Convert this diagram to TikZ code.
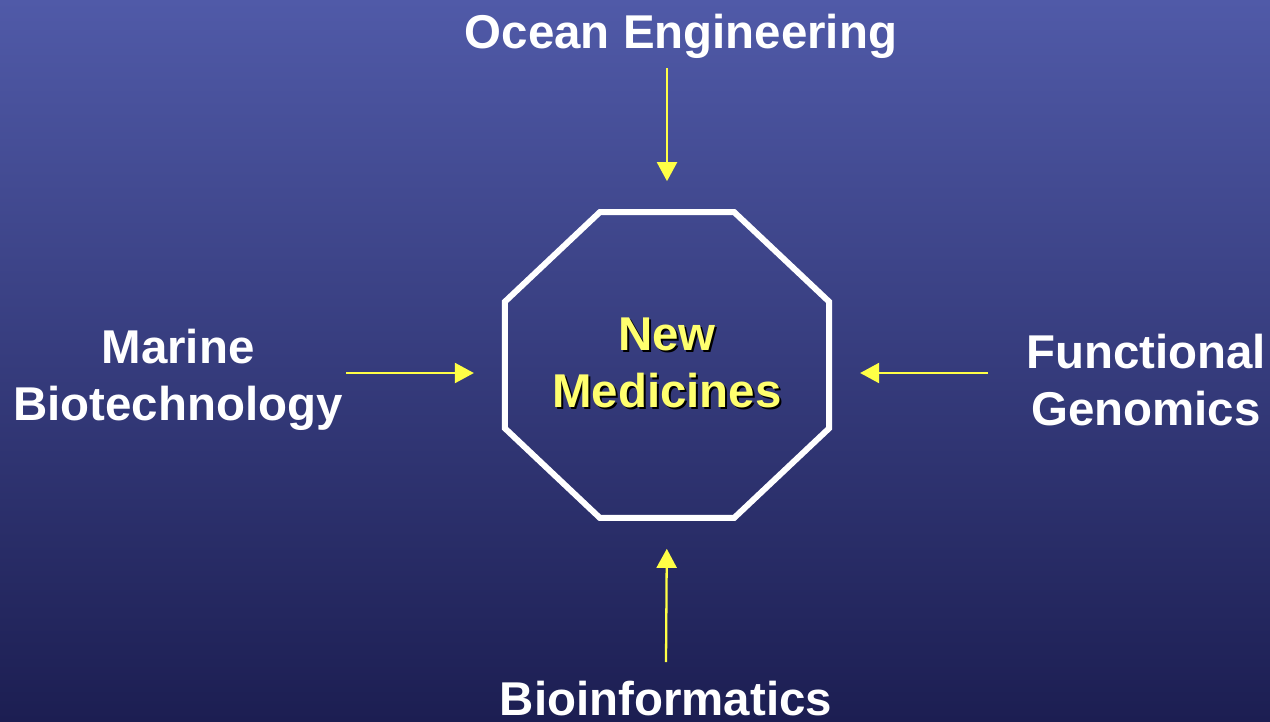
\documentclass[tikz,border=0pt]{standalone}
\usepackage{fontspec}
\setmainfont{Liberation Sans}
\usetikzlibrary{arrows.meta,shapes.geometric,positioning}

\definecolor{seatop}{RGB}{80,90,168}
\definecolor{seamid}{RGB}{44,54,138}
\definecolor{seabot}{RGB}{28,30,82}
\definecolor{arrowyellow}{RGB}{255,255,70}
\definecolor{textyellow}{RGB}{255,255,110}

\tikzset{
	field/.style={text=white,font=\fontsize{27}{32.5}\selectfont\bfseries,align=center,inner sep=0pt},
	medtext/.style={text=textyellow,font=\fontsize{27}{32.5}\selectfont\bfseries,align=center,inner sep=0pt},
	octagon/.style={regular polygon,regular polygon sides=8,minimum size=6.82cm,draw=white,line width=3.4pt,inner sep=0pt},
	feed/.style={draw=arrowyellow,line width=1.3pt,-{Triangle[width=0.4cm,length=0.38cm]},shorten >=0.56cm}
}

\begin{document}
\begin{tikzpicture}[x=0.02cm,y=-0.02cm]
	\shade[top color=seatop,middle color=seamid,bottom color=seabot] (0,0) rectangle (1270,721);
	\useasboundingbox (0,0) rectangle (1270,721);

	\node[octagon,transform shape,xscale=1.029,yscale=0.971] (octa) at (667,365) {};
	\node[medtext,text=black] at (669,365) {New\\Medicines};
	\node[medtext] (med) at (667,363) {New\\Medicines};

	\node[field,anchor=base] (ocean) at (681,48) {Ocean Engineering};
	\node[field] (marine) at (178,380) {Marine\\Biotechnology};
	\node[field] (func) at (1146,380) {Functional\\Genomics};
	\node[field,anchor=base] (bioinf) at (666,715) {Bioinformatics};

	\coordinate (oceanin) at (667,68);
	\coordinate (marinein) at (346,373);
	\coordinate (funcin) at (988,373);
	\coordinate (bioinfin) at (666,662);

	\draw[feed] (oceanin) -- (octa.north);
	\draw[feed] (marinein) -- (octa.west |- marinein);
	\draw[feed] (funcin) -- (octa.east |- funcin);
	\draw[feed] (bioinfin) -- (octa.south);
\end{tikzpicture}
\end{document}
